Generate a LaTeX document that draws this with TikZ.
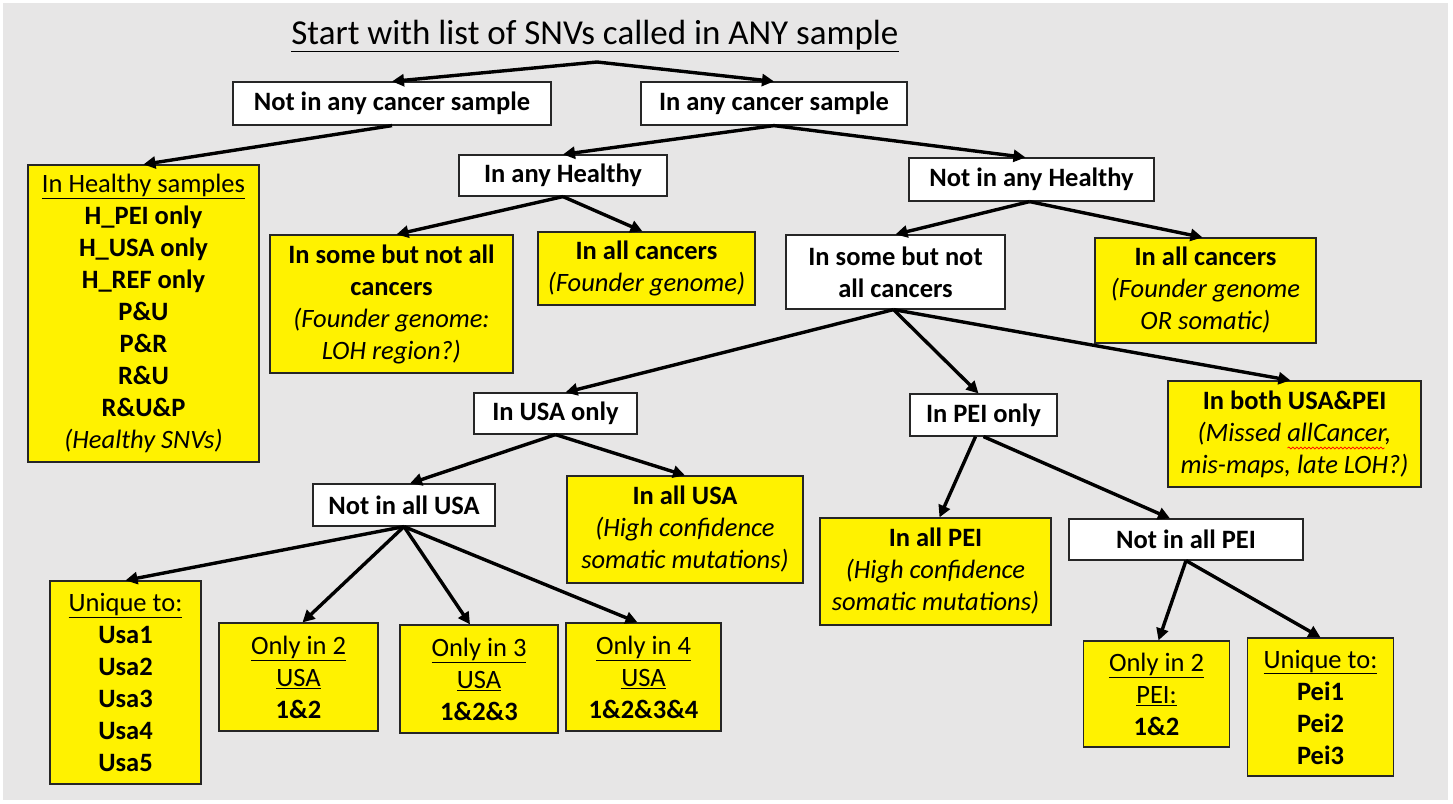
\documentclass[tikz,border=0pt]{standalone}
\usepackage{fontspec}
\setmainfont{Carlito}
\usepackage{tikz}
\usetikzlibrary{arrows.meta,decorations.pathmorphing}

\definecolor{bggrey}{HTML}{E7E6E6}
\definecolor{boxline}{HTML}{262626}

\begin{document}
\begin{tikzpicture}[x=1pt, y=-1pt]
    \tikzstyle{plainbox} = [rectangle, draw=boxline, line width=1.2pt, fill=white, inner sep=0pt, align=center, font=\fontsize{26.5}{32}\selectfont\bfseries]
    \tikzstyle{leafbox} = [rectangle, draw=boxline, line width=1.2pt, fill=yellow, inner sep=0pt, align=center, font=\fontsize{26.5}{32}\selectfont]
    \tikzstyle{branch} = [line width=3.4pt, -{Triangle[length=12pt, width=12pt]}]
    \tikzstyle{spellmark} = [red, line width=0.7pt, decorate, decoration={snake, amplitude=1pt, segment length=4pt}]

    % Background
    \fill[white] (0,0) rectangle (1453,803);
    \fill[bggrey] (3,3) rectangle (1448,800);

    % Title
    \node[font=\fontsize{35}{40}\selectfont] (title) at (595,36) {\underline{Start with list of SNVs called in ANY sample}};
    \coordinate (start) at (597,62);

    % Decision boxes
    \node[plainbox, minimum width=318, minimum height=43] (nocancer) at (392,103.5) {Not in any cancer sample};
    \node[plainbox, minimum width=266, minimum height=43] (anycancer) at (774,103.5) {In any cancer sample};
    \node[plainbox, minimum width=208, minimum height=41] (anyhealthy) at (563,175.5) {In any Healthy};
    \node[plainbox, minimum width=245, minimum height=43] (nohealthy) at (1031.5,179.5) {Not in any Healthy};
    \node[plainbox, minimum width=219, minimum height=74] (somecancer) at (895.5,272) {In some but not\\all cancers};
    \node[plainbox, minimum width=163, minimum height=41] (usaonly) at (555.5,413.5) {In USA only};
    \node[plainbox, minimum width=147, minimum height=42] (peionly) at (983.5,415) {In PEI only};
    \node[plainbox, minimum width=182, minimum height=42] (notallusa) at (404,505) {Not in all USA};
    \node[plainbox, minimum width=234, minimum height=41] (notallpei) at (1186,539.5) {Not in all PEI};

    % Result boxes
    \node[leafbox, minimum width=231, minimum height=297] (healthy) at (143.5,313.5)
        {\underline{In Healthy samples}\\\textbf{H\_PEI only}\\\textbf{H\_USA only}\\\textbf{H\_REF only}\\\textbf{P\&U}\\\textbf{P\&R}\\\textbf{R\&U}\\\textbf{R\&U\&P}\\\textit{(Healthy SNVs)}};
    \node[leafbox, minimum width=243, minimum height=138] (founderloh) at (391.5,304)
        {\textbf{In some but not all}\\\textbf{cancers}\\\textit{(Founder genome:}\\\textit{LOH region?)}};
    \node[leafbox, minimum width=217, minimum height=73] (founder) at (646.5,268.5)
        {\textbf{In all cancers}\\\textit{(Founder genome)}};
    \node[leafbox, minimum width=221, minimum height=105] (foundersom) at (1205.5,290.5)
        {\textbf{In all cancers}\\\textit{(Founder genome}\\\textit{OR somatic)}};
    \node[leafbox, minimum width=253, minimum height=106] (bothsites) at (1294.5,434)
        {\textbf{In both USA\&PEI}\\\textit{(Missed allCancer,}\\\textit{mis-maps, late LOH?)}};
    \node[leafbox, minimum width=236, minimum height=107] (allusa) at (685,529.5)
        {\textbf{In all USA}\\\textit{(High confidence}\\\textit{somatic mutations)}};
    \node[leafbox, minimum width=231, minimum height=107] (allpei) at (935.5,571.5)
        {\textbf{In all PEI}\\\textit{(High confidence}\\\textit{somatic mutations)}};
    \node[leafbox, minimum width=151, minimum height=203] (uniqueusa) at (125.5,682.5)
        {\underline{Unique to:}\\\textbf{Usa1}\\\textbf{Usa2}\\\textbf{Usa3}\\\textbf{Usa4}\\\textbf{Usa5}};
    \node[leafbox, minimum width=159, minimum height=108] (twousa) at (298.5,677)
        {\underline{Only in 2}\\\underline{USA}\\\textbf{1\&2}};
    \node[leafbox, minimum width=158, minimum height=108] (threeusa) at (479,679)
        {\underline{Only in 3}\\\underline{USA}\\\textbf{1\&2\&3}};
    \node[leafbox, minimum width=155, minimum height=108] (fourusa) at (643.5,677)
        {\underline{Only in 4}\\\underline{USA}\\\textbf{1\&2\&3\&4}};
    \node[leafbox, minimum width=146, minimum height=106] (twopei) at (1156.5,694)
        {\underline{Only in 2}\\\underline{PEI:}\\\textbf{1\&2}};
    \node[leafbox, minimum width=146, minimum height=138] (uniquepei) at (1320.5,707)
        {\underline{Unique to:}\\\textbf{Pei1}\\\textbf{Pei2}\\\textbf{Pei3}};

    % Spelling mark under allCancer
    \draw[spellmark] ([xshift=-7pt, yshift=-14pt]bothsites.center) -- ++(97,0);

    % Branches
    \draw[branch] (start) -- (nocancer.north);
    \draw[branch] (start) -- (anycancer.north);
    \draw[branch] (nocancer.south) -- (healthy.north);
    \draw[branch] (anycancer.south) -- (anyhealthy.north);
    \draw[branch] (anycancer.south) -- ([xshift=-6pt]nohealthy.north);
    \draw[branch] (anyhealthy.south) -- ([xshift=5pt]founderloh.north);
    \draw[branch] (anyhealthy.south) -- ([xshift=-4pt]founder.north);
    \draw[branch] ([xshift=-2pt]nohealthy.south) -- (somecancer.north);
    \draw[branch] ([xshift=-2pt]nohealthy.south) -- ([xshift=-3pt]foundersom.north);
    \draw[branch] ([xshift=-2pt]somecancer.south) -- ([xshift=10pt]usaonly.north);
    \draw[branch] ([xshift=-2pt]somecancer.south) -- ([xshift=-5pt]peionly.north);
    \draw[branch] ([xshift=-2pt]somecancer.south) -- ([xshift=-4pt]bothsites.north);
    \draw[branch] (usaonly.south) -- ([xshift=6pt]notallusa.north);
    \draw[branch] (usaonly.south) -- (allusa.north);
    \draw[branch] ([xshift=-8pt]peionly.south) -- ([xshift=4pt]allpei.north);
    \draw[branch] (peionly.south) -- ([xshift=-16pt]notallpei.north);
    \draw[branch] (notallusa.south) -- (uniqueusa.north);
    \draw[branch] (notallusa.south) -- ([xshift=4pt]twousa.north);
    \draw[branch] (notallusa.south) -- ([xshift=-9pt]threeusa.north);
    \draw[branch] (notallusa.south) -- ([xshift=-6pt]fourusa.north);
    \draw[branch] (notallpei.south) -- ([xshift=2pt]twopei.north);
    \draw[branch] (notallpei.south) -- (uniquepei.north);

\end{tikzpicture}
\end{document}
